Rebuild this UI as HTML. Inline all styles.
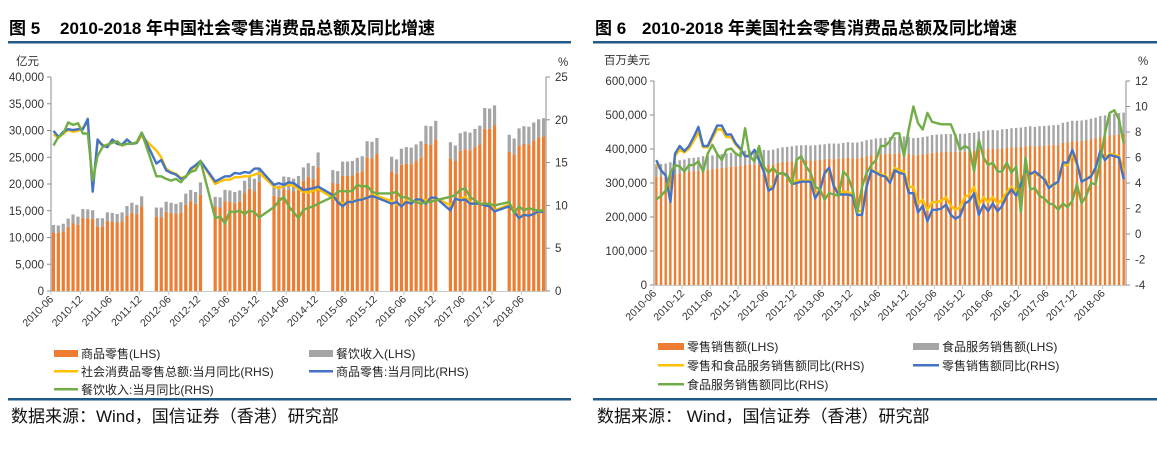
<!DOCTYPE html>
<html><head><meta charset="utf-8">
<style>
html,body{margin:0;padding:0;background:#fff;}
svg{display:block;font-family:"Liberation Sans","Noto Sans CJK SC",sans-serif;}
.t{font-weight:bold;font-size:17px;fill:#000;}
.ax{font-size:11.5px;fill:#333;}
.xl{font-size:10.5px;fill:#333;}
.lg{font-size:12px;fill:#222;}
.src{font-size:17px;fill:#111;}
</style></head>
<body>
<svg id="root" width="1157" height="449" viewBox="0 0 1157 449">
  <g>
    <text class="t" x="9" y="34">图 5<tspan x="60">2010-2018 年中国社会零售消费品总额及同比增速</tspan></text>
    <rect x="8" y="41" width="563" height="2.5" fill="#1f5a8a"/>
    <text class="ax" x="16" y="65">亿元</text>
    <text class="ax" x="558" y="66">%</text>
  </g>
  <g>
    <text class="t" x="595" y="34">图 6<tspan x="642">2010-2018 年美国社会零售消费品总额及同比增速</tspan></text>
    <rect x="593" y="41" width="564" height="2.5" fill="#1f5a8a"/>
    <text class="ax" x="604" y="64">百万美元</text>
    <text class="ax" x="1138" y="65">%</text>
  </g>
  <g id="c1"></g>
  <g id="c2"></g>
  <g>
    <rect x="54" y="350" width="24" height="7" fill="#ED7D31"/>
    <text class="lg" x="81" y="358">商品零售(LHS)</text>
    <rect x="309" y="350" width="24" height="7" fill="#A5A5A5"/>
    <text class="lg" x="336" y="358">餐饮收入(LHS)</text>
    <rect x="54" y="370" width="24" height="2.5" fill="#FFC000"/>
    <text class="lg" x="81" y="376">社会消费品零售总额:当月同比(RHS)</text>
    <rect x="309" y="370" width="24" height="2.5" fill="#4472C4"/>
    <text class="lg" x="336" y="376">商品零售:当月同比(RHS)</text>
    <rect x="54" y="388" width="24" height="2.5" fill="#70AD47"/>
    <text class="lg" x="81" y="394">餐饮收入:当月同比(RHS)</text>
  </g>
  <g>
    <rect x="658" y="343" width="26" height="7" fill="#ED7D31"/>
    <text class="lg" x="687" y="351">零售销售额(LHS)</text>
    <rect x="913" y="343" width="26" height="7" fill="#A5A5A5"/>
    <text class="lg" x="942" y="351">食品服务销售额(LHS)</text>
    <rect x="658" y="364" width="26" height="2.5" fill="#FFC000"/>
    <text class="lg" x="687" y="370">零售和食品服务销售额同比(RHS)</text>
    <rect x="913" y="364" width="26" height="2.5" fill="#4472C4"/>
    <text class="lg" x="942" y="370">零售销售额同比(RHS)</text>
    <rect x="658" y="383" width="26" height="2.5" fill="#70AD47"/>
    <text class="lg" x="687" y="389">食品服务销售额同比(RHS)</text>
  </g>
  <rect x="8" y="398" width="563" height="2.5" fill="#1f5a8a"/>
  <text class="src" x="11" y="422">数据来源：Wind，国信证券（香港）研究部</text>
  <rect x="593" y="398" width="564" height="2.5" fill="#1f5a8a"/>
  <text class="src" x="597" y="422">数据来源： Wind，国信证券（香港）研究部</text>
</svg>
<script>
const NS="http://www.w3.org/2000/svg";
const tickLabels=["2010-06","2010-12","2011-06","2011-12","2012-06","2012-12","2013-06","2013-12","2014-06","2014-12","2015-06","2015-12","2016-06","2016-12","2017-06","2017-12","2018-06"];
// ---- China (亿元, in thousands) ----
const cnGoods=[10.95,10.85,11.15,12.0,12.7,12.4,13.7,
13.6,13.5,12.1,12.1,13.1,12.9,12.8,13.0,14.1,14.6,14.3,15.8,
null,null,13.9,13.8,14.8,14.6,14.4,14.7,16.1,16.8,16.3,18.0,
null,null,15.7,15.6,16.8,16.7,16.4,16.7,18.3,19.1,18.6,20.4,
null,null,17.8,17.6,19.0,18.9,18.6,19.0,20.6,21.3,20.9,23.1,
null,null,20.2,20.0,21.5,21.5,21.6,22.1,22.4,25.0,24.8,25.6,
null,null,22.3,21.9,23.6,23.8,23.7,24.3,24.9,27.5,27.3,28.3,
null,null,24.8,24.3,26.2,26.5,26.3,26.9,27.4,30.3,30.3,31.0,
null,null,26.0,25.5,27.1,27.5,27.4,28.1,28.7,28.9];
const cnCatering=[1.38,1.40,1.42,1.54,1.59,1.51,1.63,
1.65,1.6,1.5,1.5,1.6,1.7,1.6,1.7,1.8,1.9,1.8,1.9,
null,null,1.7,1.8,1.9,1.9,1.9,1.9,2.1,2.1,2.2,2.3,
null,null,1.9,1.9,2.1,2.1,2.1,2.1,2.3,2.4,2.4,2.6,
null,null,2.2,2.1,2.4,2.4,2.4,2.5,2.5,2.6,2.5,2.8,
null,null,2.4,2.4,2.7,2.7,2.7,2.8,2.8,3.0,3.1,3.0,
null,null,2.8,2.7,3.0,3.1,3.1,3.1,3.1,3.4,3.5,3.5,
null,null,3.0,2.9,3.3,3.3,3.3,3.4,3.5,3.9,3.8,3.7,
null,null,3.2,3.0,3.3,3.3,3.3,3.4,3.4,3.4];
const cnTotalYoY=[18.3,17.9,18.4,18.8,18.6,18.7,19.1,
19.6,12.0,17.4,17.1,16.9,17.7,17.2,17.0,17.7,17.2,17.3,18.1,
null,null,16.4,15.6,14.3,13.9,13.7,13.2,13.4,14.1,14.6,15.2,
null,null,12.5,12.8,13.0,13.0,13.3,13.3,13.4,13.4,13.6,13.8,
null,null,12.2,12.0,12.3,12.4,12.3,11.9,11.6,11.5,11.7,11.9,
null,null,10.9,10.5,10.2,10.4,10.5,10.6,10.8,10.9,11.2,11.1,
null,null,10.5,10.1,10.0,10.6,10.2,10.6,10.7,10.6,10.8,10.9,
null,null,10.0,10.7,10.7,11.0,10.4,10.1,10.3,10.0,10.2,9.4,
null,null,10.1,9.4,8.5,9.0,8.8,9.0,9.2,9.2];
const cnGoodsYoY=[18.7,18.0,18.6,18.9,18.8,18.9,18.9,
20.1,11.6,17.7,17.0,16.8,17.7,17.2,17.1,17.7,17.2,17.3,18.5,
null,null,14.9,15.3,14.1,13.8,13.6,13.1,13.3,14.3,14.7,15.2,
null,null,12.8,13.1,13.4,13.4,13.8,13.7,13.9,13.8,14.3,14.3,
null,null,12.4,12.6,12.4,12.7,12.6,12.2,11.8,11.9,12.0,12.2,
null,null,11.2,10.4,9.9,10.4,10.4,10.6,10.7,10.9,11.1,10.9,
null,null,10.2,10.4,9.9,10.4,10.2,10.7,10.7,10.2,10.9,10.9,
null,null,9.4,10.8,10.6,10.7,10.2,10.2,10.2,10.0,9.9,9.3,
null,null,9.9,9.3,8.5,8.9,8.8,9.0,9.3,9.2];
const cnCateringYoY=[17.0,18.0,18.4,19.7,19.4,19.6,18.4,
18.4,12.9,15.8,16.8,17.1,17.3,17.5,17.0,17.2,17.2,17.4,18.5,
null,null,13.4,13.4,13.1,12.9,13.1,12.7,13.4,13.9,14.1,15.2,
null,null,8.5,8.7,7.9,9.3,9.2,9.4,9.0,9.4,9.2,8.6,
null,null,9.8,10.5,11.0,9.9,9.2,8.5,9.5,9.7,9.9,10.2,
null,null,11.0,11.6,11.7,11.6,11.7,12.4,12.2,12.3,11.6,11.4,
null,null,11.4,11.6,10.9,11.0,10.6,10.4,10.2,10.4,10.4,10.6,
null,null,11.0,11.2,11.8,12.0,11.0,10.6,10.2,10.2,10.2,10.0,
null,null,10.4,9.1,9.9,9.4,9.7,9.5,9.4,9.4];
const cnLeftTicks=["0","5,000","10,000","15,000","20,000","25,000","30,000","35,000","40,000"];
const cnRightTicks=["0","5","10","15","20","25"];
// ---- US (百万美元, in thousands) ----
const usRetail=[318,319,320,323,326,329,331,
334,335,337,339,339,341,343,344,346,348,349,350,
353,354,355,355,354,353,355,359,362,362,364,366,
367,367,366,366,368,369,371,370,371,373,374,373,
373,375,379,381,383,384,385,387,386,388,388,386,
382,383,384,386,389,390,391,392,391,392,392,392,
393,394,397,399,400,401,400,402,403,405,406,406,
408,410,408,409,410,411,412,412,418,420,423,423,
424,425,428,431,435,437,440,441,443,444];
const usFood=[37,37,37,38,38,38,38,
39,39,39,40,40,40,40,41,41,41,41,42,
42,42,42,42,43,43,43,43,43,44,44,44,
44,44,44,45,45,45,45,46,45,45,46,46,
46,47,47,47,48,48,48,48,49,49,49,50,
50,50,51,51,52,52,52,52,53,53,53,53,
54,54,54,54,55,55,55,56,56,56,56,57,
57,57,57,58,58,58,58,59,59,60,60,60,
60,61,61,61,62,62,62,63,63,63];
const usTotalYoY=[5.5,5.0,4.6,3.0,6.1,6.6,6.4,6.7,7.3,8.0,
6.8,6.8,7.5,8.2,8.2,7.6,7.6,7.0,6.6,6.1,
6.2,6.5,5.8,5.0,3.6,3.8,4.7,4.8,4.6,4.1,
4.2,4.2,4.2,4.2,3.1,3.5,4.7,5.1,3.8,3.3,
3.3,3.3,3.1,1.8,1.8,3.8,5.0,4.9,4.7,4.6,
4.2,5.2,5.0,4.9,3.7,3.7,2.4,2.7,1.9,2.5,
2.5,2.6,2.9,2.2,1.9,2.1,2.9,3.1,3.7,2.3,
2.9,2.5,2.9,2.4,2.7,3.3,3.7,3.3,4.1,4.9,
4.7,4.8,4.5,4.4,3.8,3.8,4.1,5.4,5.4,6.3,
5.4,4.2,4.3,4.6,5.2,6.4,5.9,6.3,6.2,6.1,4.9];
const usRetailYoY=[5.8,5.0,4.6,2.5,6.3,6.9,6.5,6.9,7.6,8.4,
6.9,6.9,7.7,8.5,8.5,7.8,7.8,7.1,6.7,6.1,
6.1,6.6,5.8,4.9,3.4,3.6,4.7,4.8,4.6,3.9,
4.0,4.1,4.1,4.1,2.8,3.4,4.8,5.2,3.7,3.1,
3.1,3.1,3.0,1.5,1.5,3.7,5.0,4.8,4.6,4.5,
4.0,5.0,4.8,4.7,3.2,3.2,1.7,2.2,1.0,1.9,
1.9,2.0,2.3,1.5,1.2,1.4,2.4,2.6,3.2,1.5,
2.3,1.8,2.4,1.8,2.2,3.0,3.5,3.0,3.9,5.0,
4.7,4.9,4.6,4.3,3.6,3.9,4.1,5.6,5.6,6.6,
5.6,4.1,4.3,4.5,5.2,6.5,5.8,6.2,6.1,6.0,4.3];
const usFoodYoY=[2.7,3.0,3.4,4.8,5.4,5.3,4.9,5.4,5.4,5.7,
4.9,6.3,7.0,6.3,5.8,6.6,6.7,6.3,6.1,8.3,
6.1,5.7,6.9,5.3,4.8,5.2,4.7,4.8,4.5,3.9,
5.8,6.1,5.3,4.8,3.7,3.5,2.7,3.2,3.1,3.0,
4.9,4.5,3.5,1.7,3.7,4.8,5.4,5.8,6.9,6.9,
7.3,7.9,7.9,6.1,8.2,10.0,8.7,8.2,9.5,8.8,
8.7,8.6,8.6,8.6,7.7,6.6,6.9,6.7,4.9,7.4,
6.0,5.4,5.6,4.9,4.9,5.6,4.8,5.3,1.7,6.0,
3.5,3.6,3.0,2.8,2.4,2.3,1.9,2.4,2.1,2.6,
3.9,2.4,3.0,4.0,3.9,5.8,7.9,9.5,9.7,9.0,7.1];
const usLeftTicks=["0","100,000","200,000","300,000","400,000","500,000","600,000"];
const usRightTicks=["-4","-2","0","2","4","6","8","10","12"];

function mk(parent,tag,attrs){const e=document.createElementNS(NS,tag);for(const k in attrs)e.setAttribute(k,attrs[k]);parent.appendChild(e);return e;}

function drawChart(g,cfg){
  const n=cfg.bottom.length;
  const slot=(cfg.x1-cfg.x0)/n;
  const xC=i=>cfg.x0+(i+0.5)*slot;
  const yL=v=>cfg.yB-(v-cfg.lMin)/(cfg.lMax-cfg.lMin)*(cfg.yB-cfg.yT);
  const yR=v=>cfg.yB-(v-cfg.rMin)/(cfg.rMax-cfg.rMin)*(cfg.yB-cfg.yT);
  for(let i=0;i<n;i++){
    const b=cfg.bottom[i],t=cfg.top[i];
    if(b==null)continue;
    const bx=xC(i)-cfg.bw/2;
    const r1=mk(g,'rect',{x:bx,y:yL(b),width:cfg.bw,height:cfg.yB-yL(b),fill:'#ED7D31'});
    
    
    const r2=mk(g,'rect',{x:bx,y:yL(b+t),width:cfg.bw,height:yL(b)-yL(b+t),fill:'#A5A5A5'});
    
    
  }
  const axl=mk(g,'line',{x1:cfg.x0,y1:cfg.yT,x2:cfg.x0,y2:cfg.yB,stroke:'#8c8c8c','stroke-width':1});
  
  
  const axr=mk(g,'line',{x1:cfg.x1,y1:cfg.yT,x2:cfg.x1,y2:cfg.yB,stroke:'#8c8c8c','stroke-width':1});
  
  
  const axb=mk(g,'line',{x1:cfg.x0,y1:cfg.yB+0.5,x2:cfg.x1,y2:cfg.yB+0.5,stroke:'#c8c8c8','stroke-width':1});
  
  
  cfg.lTicks.forEach((lab,k)=>{
    const v=cfg.lMin+k*(cfg.lMax-cfg.lMin)/(cfg.lTicks.length-1);
    const y=yL(v);
    mk(g,'line',{x1:cfg.x0-4,y1:y,x2:cfg.x0,y2:y,stroke:'#8c8c8c'});
    const t=mk(g,'text',{x:cfg.x0-7,y:y+4,'text-anchor':'end','class':'ax'});
    t.textContent=lab;
    
    
  });
  cfg.rTicks.forEach((lab,k)=>{
    const v=cfg.rMin+k*(cfg.rMax-cfg.rMin)/(cfg.rTicks.length-1);
    const y=yR(v);
    mk(g,'line',{x1:cfg.x1,y1:y,x2:cfg.x1+4,y2:y,stroke:'#8c8c8c'});
    const t=mk(g,'text',{x:cfg.x1+9,y:y+4,'class':'ax'});
    t.textContent=lab;
    
    
  });
  tickLabels.forEach((lab,k)=>{
    const x=cfg.x0+k*6*slot;
    mk(g,'line',{x1:x,y1:cfg.yB,x2:x,y2:cfg.yB+4,stroke:'#c8c8c8'});
    const t=mk(g,'text',{x:x+3,y:cfg.yB+9,'text-anchor':'end','class':'xl',transform:`rotate(-45 ${x+3} ${cfg.yB+9})`});
    t.textContent=lab;
    
    
  });
  cfg.lines.forEach(L=>{
    const pts=[];
    L.data.forEach((v,i)=>{if(v!=null)pts.push(xC(i).toFixed(1)+','+yR(v).toFixed(1));});
    const p=mk(g,'polyline',{points:pts.join(' '),fill:'none',stroke:L.color,'stroke-width':2.4,'stroke-linejoin':'round'});
    
    
  });
}
drawChart(document.getElementById('c1'),{x0:51,x1:546,yT:77,yB:291,lMin:0,lMax:40,rMin:0,rMax:25,bw:3.2,
  bottom:cnGoods,top:cnCatering,bName:'goods-retail',tName:'catering',lTicks:cnLeftTicks,rTicks:cnRightTicks,
  lines:[{data:cnTotalYoY,color:'#FFC000',name:'line-total-yoy'},{data:cnGoodsYoY,color:'#4472C4',name:'line-goods-yoy'},{data:cnCateringYoY,color:'#70AD47',name:'line-catering-yoy'}]});
drawChart(document.getElementById('c2'),{x0:654,x1:1126,yT:81,yB:285,lMin:0,lMax:600,rMin:-4,rMax:12,bw:2.4,
  bottom:usRetail,top:usFood,bName:'retail-sales',tName:'food-service',lTicks:usLeftTicks,rTicks:usRightTicks,
  lines:[{data:usTotalYoY,color:'#FFC000',name:'line-retail-food-yoy'},{data:usRetailYoY,color:'#4472C4',name:'line-retail-yoy'},{data:usFoodYoY,color:'#70AD47',name:'line-food-yoy'}]});
</script>
</body></html>
